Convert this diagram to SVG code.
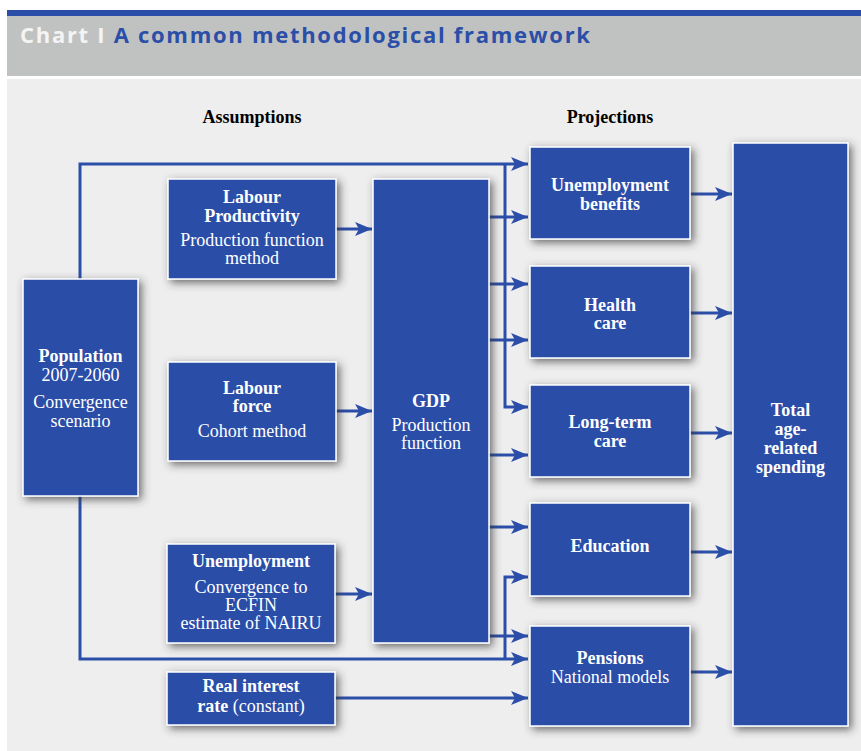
<svg xmlns="http://www.w3.org/2000/svg" width="861" height="751" viewBox="0 0 861 751">
<defs>
<filter id="sh" x="-20%" y="-20%" width="150%" height="150%">
<feDropShadow dx="3" dy="3" stdDeviation="4" flood-color="#333" flood-opacity="0.7"/>
</filter>
<marker id="ah" markerUnits="userSpaceOnUse" markerWidth="18" markerHeight="16" viewBox="0 0 18 16" refX="17" refY="8" orient="auto">
<path d="M0,1 L17,8 L0,15 L4,8 Z" fill="#2b4ea8"/>
</marker>
<style>
.box{fill:#2b4ea8;stroke:#ffffff;stroke-width:1.5;filter:url(#sh)}
.t{font-family:"Liberation Serif","Times New Roman",serif;font-size:18px;fill:#ffffff;text-anchor:middle}
.b{font-weight:bold}
.h{font-family:"Liberation Serif","Times New Roman",serif;font-size:18px;font-weight:bold;fill:#000;text-anchor:middle}
.c{fill:none;stroke:#2b4ea8;stroke-width:3}
.a{marker-end:url(#ah)}
</style>
</defs>
<rect x="0" y="0" width="861" height="751" fill="#ffffff"/>
<rect x="7" y="10" width="854" height="6" fill="#2b4ea8"/>
<rect x="7" y="16" width="854" height="60" fill="#c0c2c1"/>
<rect x="7" y="79" width="854" height="672" fill="#eeeeee"/>
<text x="20" y="43" textLength="570" lengthAdjust="spacing" font-family="'Open Sans','Liberation Sans',sans-serif" font-size="22" font-weight="bold" fill="#2b4ea8"><tspan fill="#f4f4f4">Chart I </tspan>A common methodological framework</text>
<text class="h" x="252" y="123">Assumptions</text>
<text class="h" x="610" y="123">Projections</text>

<g id="connectors">
<path class="c a" d="M80,279 V164 H528"/>
<path class="c a" d="M505,164 V407 H528"/>
<path class="c a" d="M80,496 V659 H528"/>
<path class="c a" d="M505,659 V577 H528"/>
<path class="c a" d="M489,217 H528"/>
<path class="c a" d="M489,284 H528"/>
<path class="c a" d="M489,340 H528"/>
<path class="c a" d="M489,455 H528"/>
<path class="c a" d="M489,527 H528"/>
<path class="c a" d="M489,636 H528"/>
<path class="c a" d="M335,698 H528"/>
<path class="c a" d="M336,229 H372"/>
<path class="c a" d="M336,411 H372"/>
<path class="c a" d="M335,594 H372"/>
<path class="c a" d="M690,194 H732"/>
<path class="c a" d="M690,313 H732"/>
<path class="c a" d="M690,433 H732"/>
<path class="c a" d="M690,552 H732"/>
<path class="c a" d="M690,672 H732"/>
</g>

<g id="population">
<rect class="box" x="23" y="279" width="115" height="217"/>
<text class="t b" x="80.5" y="362">Population</text>
<text class="t" x="80.5" y="381">2007-2060</text>
<text class="t" x="80.5" y="408">Convergence</text>
<text class="t" x="80.5" y="427">scenario</text>
</g>
<g id="labour-productivity">
<rect class="box" x="168" y="179" width="168" height="100"/>
<text class="t b" x="252" y="203">Labour</text>
<text class="t b" x="252" y="222">Productivity</text>
<text class="t" x="252" y="246">Production function</text>
<text class="t" x="252" y="264">method</text>
</g>
<g id="labour-force">
<rect class="box" x="168" y="362" width="168" height="99"/>
<text class="t b" x="252" y="394">Labour</text>
<text class="t b" x="252" y="412">force</text>
<text class="t" x="252" y="437">Cohort method</text>
</g>
<g id="unemployment">
<rect class="box" x="167" y="544" width="168" height="99"/>
<text class="t b" x="251" y="567">Unemployment</text>
<text class="t" x="251" y="593">Convergence to</text>
<text class="t" x="251" y="611">ECFIN</text>
<text class="t" x="251" y="629">estimate of NAIRU</text>
</g>
<g id="real-interest-rate">
<rect class="box" x="167" y="672" width="168" height="53"/>
<text class="t b" x="251" y="692">Real interest</text>
<text class="t" x="251" y="712"><tspan class="b">rate</tspan> (constant)</text>
</g>
<g id="gdp">
<rect class="box" x="373" y="179" width="116" height="464"/>
<text class="t b" x="431" y="407">GDP</text>
<text class="t" x="431" y="431">Production</text>
<text class="t" x="431" y="449">function</text>
</g>
<g id="unemployment-benefits">
<rect class="box" x="530" y="147" width="160" height="92"/>
<text class="t b" x="610" y="191">Unemployment</text>
<text class="t b" x="610" y="210">benefits</text>
</g>
<g id="health-care">
<rect class="box" x="530" y="266" width="160" height="92"/>
<text class="t b" x="610" y="311">Health</text>
<text class="t b" x="610" y="329">care</text>
</g>
<g id="long-term-care">
<rect class="box" x="530" y="385" width="160" height="92"/>
<text class="t b" x="610" y="428">Long-term</text>
<text class="t b" x="610" y="447">care</text>
</g>
<g id="education">
<rect class="box" x="530" y="503" width="160" height="93"/>
<text class="t b" x="610" y="552">Education</text>
</g>
<g id="pensions">
<rect class="box" x="530" y="626" width="160" height="100"/>
<text class="t b" x="610" y="664">Pensions</text>
<text class="t" x="610" y="683">National models</text>
</g>
<g id="total">
<rect class="box" x="733" y="143" width="115" height="583"/>
<text class="t b" x="790.5" y="416">Total</text>
<text class="t b" x="790.5" y="435">age-</text>
<text class="t b" x="790.5" y="454">related</text>
<text class="t b" x="790.5" y="473">spending</text>
</g>
</svg>
